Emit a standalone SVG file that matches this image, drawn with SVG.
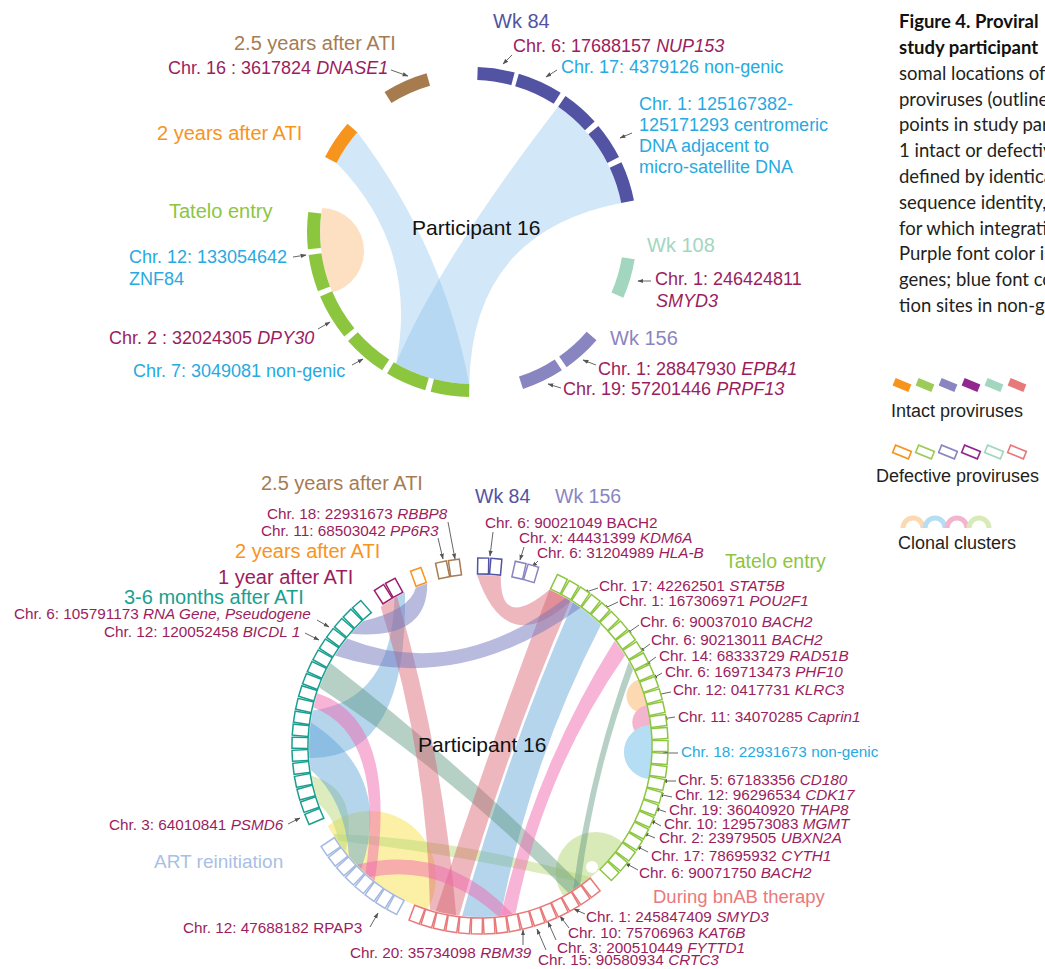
<svg xmlns="http://www.w3.org/2000/svg" width="1045" height="969" viewBox="0 0 1045 969">
<defs>
<style>
text{font-family:"Liberation Sans",Arial,sans-serif}
.cap text{font-family:Lato,"Open Sans",sans-serif;font-size:18.5px;fill:#231f20}
.m{fill:#9b1d5e}
.bl{fill:#27aae1}
.t18{font-size:18px}
.s{font-size:15.3px}
.h{font-size:20px}
.h2{font-size:19.5px}
.i{font-style:italic}
.seg{fill:none;stroke-width:13}
.ar{stroke:#555;stroke-width:0.9;fill:none;marker-end:url(#ah)}
.rr{fill:#d8606c;fill-opacity:.45}
.rb{fill:#5aa2d8;fill-opacity:.45}
.rp{fill:#f06ab0;fill-opacity:.5}
.rg{fill:#5f9680;fill-opacity:.45}
.rl{fill:#7377bd;fill-opacity:.5}
.ry{fill:#b9d97a;fill-opacity:.5}
.rt{fill:#8fc4ea;fill-opacity:.4}
</style>
<marker id="ah" viewBox="0 0 10 10" refX="9" refY="5" markerWidth="6" markerHeight="6" markerUnits="userSpaceOnUse" orient="auto"><path d="M0,1.5L10,5L0,8.5z" fill="#555"/></marker>
<clipPath id="cT"><circle cx="472" cy="232" r="152"/></clipPath>
<clipPath id="cB"><circle cx="480" cy="746" r="172"/></clipPath>
<rect id="bx" x="652" y="740.5" width="16" height="11"/>
</defs>
<rect width="1045" height="969" fill="#fff"/>

<!-- ===== TOP CIRCLE ===== -->
<g id="top-clusters">
<circle cx="321" cy="251" r="43" fill="#fde0c2" clip-path="url(#cT)"/>
</g>
<g id="top-connectors">
<path class="rt" d="M469.3,384.0 A152,152 0 0 1 396.0,363.6 Q419.15,247.65 336.6,163.0 A152,152 0 0 1 357.3,132.3 Q442.65,245.1 469.3,384.0 Z"/>
<path class="rt" d="M469.3,384.0 A152,152 0 0 1 396.0,363.6 Q440.35,258.85 558.1,106.7 A152,152 0 0 1 621.2,203.0 Q472,232 469.3,384.0 Z"/>
<path class="ar" d="M391,70 L408,76"/>
<path class="ar" d="M512,55 L503,64"/>
<path class="ar" d="M557,70 L546,77"/>
<path class="ar" d="M632,133 L620,138"/>
<path class="ar" d="M293,257 L306,255"/>
<path class="ar" d="M318,329 L330,322"/>
<path class="ar" d="M352,365 L363,359"/>
<path class="ar" d="M651,281 L638,281"/>
<path class="ar" d="M596,365 L583,360"/>
<path class="ar" d="M561,388 L548,384"/>
</g>
<text x="412" y="235" font-size="21" fill="#111">Participant 16</text>

<g id="top-tatelo">
<g class="seg" stroke="#8cc63f">
<path d="M314.4,248.6 A158.5,158.5 0 0 1 314.7,212.7"/>
<path d="M324.0,288.8 A158.5,158.5 0 0 1 315.0,254.1"/>
<path d="M349.3,332.3 A158.5,158.5 0 0 1 326.1,293.9"/>
<path d="M385.7,364.9 A158.5,158.5 0 0 1 352.9,336.6"/>
<path d="M427.0,384.0 A158.5,158.5 0 0 1 390.4,367.9"/>
<path d="M469.2,390.5 A158.5,158.5 0 0 1 432.3,385.4"/>
</g>
<text x="169" y="218" class="h" fill="#8cc63f">Tatelo entry</text>
<text x="129" y="263" class="bl t18">Chr. 12: 133054642</text>
<text x="129" y="285" class="bl t18">ZNF84</text>
<text x="109" y="344" class="m t18">Chr. 2 : 32024305 <tspan class="i">DPY30</tspan></text>
<text x="133" y="377" class="bl t18">Chr. 7: 3049081 non-genic</text>
</g>
<g id="top-wk84">
<g class="seg" stroke="#5254a3">
<path d="M477.5,73.6 A158.5,158.5 0 0 1 513.0,78.9"/>
<path d="M517.0,80.0 A158.5,158.5 0 0 1 557.2,98.3"/>
<path d="M561.8,101.4 A158.5,158.5 0 0 1 589.8,125.9"/>
<path d="M593.4,130.1 A158.5,158.5 0 0 1 613.2,160.0"/>
<path d="M615.6,165.0 A158.5,158.5 0 0 1 627.6,201.8"/>
</g>
<text x="493" y="28" class="h" fill="#5254a3">Wk 84</text>
<text x="513" y="52" class="m t18">Chr. 6: 17688157 <tspan class="i">NUP153</tspan></text>
<text x="561" y="73" class="bl t18">Chr. 17: 4379126 non-genic</text>
<text class="bl t18"><tspan x="639" y="110">Chr. 1: 125167382-</tspan><tspan x="639" y="131">125171293 centromeric</tspan><tspan x="639" y="152">DNA adjacent to</tspan><tspan x="639" y="173">micro-satellite DNA</tspan></text>
</g>
<g id="top-25y">
<path class="seg" stroke="#a67c4e" d="M388.0,97.6 A158.5,158.5 0 0 1 428.3,79.6"/>
<text x="234" y="50" class="h" fill="#a67c52">2.5 years after ATI</text>
<text x="168" y="74" class="m t18">Chr. 16 : 3617824 <tspan class="i">DNASE1</tspan></text>
</g>
<g id="top-2y">
<path class="seg" stroke="#f7941d" d="M330.8,160.0 A158.5,158.5 0 0 1 352.4,128.0"/>
<text x="157" y="140" class="h" fill="#f7941d">2 years after ATI</text>
</g>
<g id="top-wk108">
<path class="seg" stroke="#a3d6be" d="M628.3,258.2 A158.5,158.5 0 0 1 617.4,295.2"/>
<text x="647" y="252" class="h" fill="#a3d6be">Wk 108</text>
<text x="655" y="285" class="m t18">Chr. 1: 246424811</text>
<text x="656" y="307" class="m t18 i">SMYD3</text>
</g>
<g id="top-wk156">
<g class="seg" stroke="#8985c0">
<path d="M591.6,336.0 A158.5,158.5 0 0 1 562.9,361.8"/>
<path d="M558.3,364.9 A158.5,158.5 0 0 1 521.0,382.8"/>
</g>
<text x="610" y="345" class="h" fill="#8985c0">Wk 156</text>
<text x="598" y="375" class="m t18">Chr. 1: 28847930 <tspan class="i">EPB41</tspan></text>
<text x="563" y="395" class="m t18">Chr. 19: 57201446 <tspan class="i">PRPF13</tspan></text>
</g>

<!-- ===== BOTTOM CIRCLE ===== -->
<g id="bottom-clusters" clip-path="url(#cB)">
<circle cx="370" cy="877" r="66" fill="#fcf0a6"/>
<circle cx="595.5" cy="872" r="40" fill="#d9eab9"/>
<circle cx="592" cy="867" r="6" fill="#fff"/>
<circle cx="643.5" cy="696" r="17" fill="#fcd9b0"/>
<circle cx="649.3" cy="722.2" r="17" fill="#f3b5cd"/>
<circle cx="650.9" cy="752" r="27" fill="#b5def4"/>
</g>
<g id="bottom-connectors">
<path class="ry" d="M345.3,851.3 A171,171 0 0 1 338.2,841.6 Q335,818 319.3,804.5 A171,171 0 0 1 311.6,775.7 Q360,790 345.3,851.3 Z"/>
<path class="ry" d="M589.9,877.0 A171,171 0 0 1 582.9,882.6 Q460,854.5 337.4,840.4 A171,171 0 0 1 333.4,834.1 Q458.4,838.5 589.9,877.0 Z"/>
<path class="rb" d="M309.4,757.9 A171,171 0 0 1 312.7,710.4 Q392,700 394.5,597.9 A171,171 0 0 1 405.0,592.3 Q408,760 309.4,757.9 Z"/>
<path class="rb" d="M361.2,869.0 A171,171 0 0 1 349.0,855.9 Q345,800 310.7,769.8 A171,171 0 0 1 310.7,722.2 Q393.6,775.8 361.2,869.0 Z"/>
<path class="rb" d="M500.8,915.7 A171,171 0 0 1 462.1,916.1 Q506.3,755.3 573.1,602.6 A171,171 0 0 1 600.9,625.1 Q529.6,763.1 500.8,915.7 Z"/>
<path class="rg" d="M580.5,884.3 A171,171 0 0 1 568.1,892.6 Q454.6,776.8 319.3,687.5 A171,171 0 0 1 330.4,663.1 Q462.8,765.4 580.5,884.3 Z"/>
<path class="rg" d="M580.5,884.3 A171,171 0 0 1 573.1,889.4 Q588.9,772.6 628.8,661.8 A171,171 0 0 1 633.0,669.7 Q594.1,773.9 580.5,884.3 Z"/>
<path class="rr" d="M456.2,915.3 A171,171 0 0 1 430.0,909.5 Q427.7,754.5 380.7,606.8 A171,171 0 0 1 397.1,596.4 Q442.7,752.9 456.2,915.3 Z"/>
<path class="rr" d="M459.2,915.7 A171,171 0 0 1 435.7,911.2 Q488.8,749.2 549.5,589.8 A171,171 0 0 1 570.6,601.0 Q504.4,754.6 459.2,915.7 Z"/>
<path class="rr" d="M477.0,575.0 A171,171 0 0 1 500.8,576.3 Q500,631 549.5,589.8 A171,171 0 0 1 570.6,601.0 Q506,660 477.0,575.0 Z"/>
<path class="rp" d="M515.6,913.3 A171,171 0 0 1 500.8,915.7 Q534.4,768.5 614.7,640.7 A171,171 0 0 1 625.0,655.4 Q543.2,772.9 515.6,913.3 Z"/>
<path class="rp" d="M374.7,880.7 A171,171 0 0 1 365.6,873.1 Q385,735 313.4,707.5 A171,171 0 0 1 317.4,693.2 Q400,720 374.7,880.7 Z"/>
<path class="rp" d="M512.6,913.9 A171,171 0 0 1 497.9,916.1 Q440,863.5 370.1,877.0 A171,171 0 0 1 357.0,864.8 Q445.2,842.7 512.6,913.9 Z"/>
<path class="rl" d="M350.9,633.8 A171,171 0 0 1 363.4,620.9 Q410,610 415.9,587.4 A171,171 0 0 1 427.2,583.4 Q428,640 350.9,633.8 Z"/>
<path class="rl" d="M335.0,655.4 A171,171 0 0 1 347.1,638.4 Q456,682 565.5,597.9 A171,171 0 0 1 580.5,607.7 Q458,696 335.0,655.4 Z"/>
<path class="ar" d="M448,522 L455,559"/>
<path class="ar" d="M438,538 L443,559"/>
<path class="ar" d="M493,532 L490,556"/>
<path class="ar" d="M524,547 L520,560"/>
<path class="ar" d="M538,561 L532,567"/>
<path class="ar" d="M317,620 L329,627"/>
<path class="ar" d="M305,633 L319,640"/>
<path class="ar" d="M288,824 L300,818"/>
<path class="ar" d="M370,927 L378,913"/>
<path class="ar" d="M523,945 L523,930"/>
<path class="ar" d="M546,950 L537,929"/>
<path class="ar" d="M556,940 L548,922"/>
<path class="ar" d="M569,928 L560,916"/>
<path class="ar" d="M585,914 L574,909"/>
<path class="ar" d="M598,588 L583,593"/>
<path class="ar" d="M618,602 L603,609"/>
<path class="ar" d="M639,625 L626,634"/>
<path class="ar" d="M650,644 L639,652"/>
<path class="ar" d="M656,657 L645,665"/>
<path class="ar" d="M662,673 L652,679"/>
<path class="ar" d="M671,692 L656,695"/>
<path class="ar" d="M675,717 L662,719"/>
<path class="ar" d="M678,753 L663,753"/>
<path class="ar" d="M676,781 L662,781"/>
<path class="ar" d="M672,797 L658,794"/>
<path class="ar" d="M666,812 L654,808"/>
<path class="ar" d="M661,826 L650,820"/>
<path class="ar" d="M655,838 L643,833"/>
<path class="ar" d="M648,852 L636,846"/>
<path class="ar" d="M638,870 L625,863"/>
</g>
<text x="418" y="752" font-size="21" fill="#111">Participant 16</text>

<g id="bot-36m">
<g stroke="#1a9e8f" fill="#fff" stroke-width="1.5">
<use href="#bx" transform="rotate(157 480 746)"/><use href="#bx" transform="rotate(161 480 746)"/><use href="#bx" transform="rotate(165 480 746)"/><use href="#bx" transform="rotate(169 480 746)"/><use href="#bx" transform="rotate(173 480 746)"/><use href="#bx" transform="rotate(177 480 746)"/><use href="#bx" transform="rotate(181 480 746)"/><use href="#bx" transform="rotate(185 480 746)"/><use href="#bx" transform="rotate(189 480 746)"/><use href="#bx" transform="rotate(193 480 746)"/><use href="#bx" transform="rotate(197 480 746)"/><use href="#bx" transform="rotate(201 480 746)"/><use href="#bx" transform="rotate(205 480 746)"/><use href="#bx" transform="rotate(209 480 746)"/><use href="#bx" transform="rotate(213 480 746)"/><use href="#bx" transform="rotate(217 480 746)"/><use href="#bx" transform="rotate(221 480 746)"/><use href="#bx" transform="rotate(225 480 746)"/><use href="#bx" transform="rotate(229 480 746)"/>
</g>
<text x="124" y="604" class="h" fill="#1aa08f">3-6 months after ATI</text>
<text x="14" y="619" class="m s">Chr. 6: 105791173 <tspan class="i">RNA Gene, Pseudogene</tspan></text>
<text x="104" y="637" class="m s">Chr. 12: 120052458 <tspan class="i">BICDL 1</tspan></text>
<text x="109" y="830" class="m s">Chr. 3: 64010841 <tspan class="i">PSMD6</tspan></text>
</g>
<g id="bot-1y">
<g stroke="#9b1f6e" fill="#fff" stroke-width="1.5">
<use href="#bx" transform="rotate(237.5 480 746)"/><use href="#bx" transform="rotate(241.5 480 746)"/>
</g>
<text x="218" y="584" class="h" fill="#9b1d5e">1 year after ATI</text>
</g>
<g id="bot-2y">
<g stroke="#f7941d" fill="#fff" stroke-width="1.5"><use href="#bx" transform="rotate(250 480 746)"/></g>
<text x="235" y="558" class="h" fill="#f7941d">2 years after ATI</text>
</g>
<g id="bot-25y">
<g stroke="#a67c52" fill="#fff" stroke-width="1.5">
<use href="#bx" transform="rotate(258 480 746)"/><use href="#bx" transform="rotate(262 480 746)"/>
</g>
<text x="261" y="490" class="h" fill="#a67c52">2.5 years after ATI</text>
<text x="267" y="519" class="m s">Chr. 18: 22931673 <tspan class="i">RBBP8</tspan></text>
<text x="261" y="536" class="m s">Chr. 11: 68503042 <tspan class="i">PP6R3</tspan></text>
</g>
<g id="bot-wk84">
<g stroke="#5254a3" fill="#fff" stroke-width="1.5">
<use href="#bx" transform="rotate(271 480 746)"/><use href="#bx" transform="rotate(275 480 746)"/>
</g>
<text x="475" y="503" class="h2" fill="#5254a3">Wk 84</text>
<text x="485" y="528" class="m s">Chr. 6: 90021049 BACH2</text>
</g>
<g id="bot-wk156">
<g stroke="#8a85c2" fill="#fff" stroke-width="1.5">
<use href="#bx" transform="rotate(282.5 480 746)"/><use href="#bx" transform="rotate(286.5 480 746)"/>
</g>
<text x="555" y="503" class="h2" fill="#8a85c2">Wk 156</text>
<text x="519" y="543" class="m s">Chr. x: 44431399 <tspan class="i">KDM6A</tspan></text>
<text x="537" y="558" class="m s">Chr. 6: 31204989 <tspan class="i">HLA-B</tspan></text>
</g>
<g id="bot-tatelo">
<g stroke="#8cc63f" fill="#fff" stroke-width="1.5">
<use href="#bx" transform="rotate(296 480 746)"/><use href="#bx" transform="rotate(300 480 746)"/><use href="#bx" transform="rotate(304 480 746)"/><use href="#bx" transform="rotate(308 480 746)"/><use href="#bx" transform="rotate(312 480 746)"/><use href="#bx" transform="rotate(316 480 746)"/><use href="#bx" transform="rotate(320 480 746)"/><use href="#bx" transform="rotate(324 480 746)"/><use href="#bx" transform="rotate(328 480 746)"/><use href="#bx" transform="rotate(332 480 746)"/><use href="#bx" transform="rotate(336 480 746)"/><use href="#bx" transform="rotate(340 480 746)"/><use href="#bx" transform="rotate(344 480 746)"/><use href="#bx" transform="rotate(348 480 746)"/><use href="#bx" transform="rotate(352 480 746)"/><use href="#bx" transform="rotate(356 480 746)"/><use href="#bx" transform="rotate(0 480 746)"/><use href="#bx" transform="rotate(4 480 746)"/><use href="#bx" transform="rotate(8 480 746)"/><use href="#bx" transform="rotate(12 480 746)"/><use href="#bx" transform="rotate(16 480 746)"/><use href="#bx" transform="rotate(20 480 746)"/><use href="#bx" transform="rotate(24 480 746)"/><use href="#bx" transform="rotate(28 480 746)"/><use href="#bx" transform="rotate(32 480 746)"/><use href="#bx" transform="rotate(36 480 746)"/><use href="#bx" transform="rotate(40 480 746)"/><use href="#bx" transform="rotate(44 480 746)"/>
</g>
<text x="725" y="568" class="h2" fill="#8cc63f">Tatelo entry</text>
<g class="m s">
<text x="599" y="591">Chr. 17: 42262501 <tspan class="i">STAT5B</tspan></text>
<text x="619" y="606">Chr. 1: 167306971 <tspan class="i">POU2F1</tspan></text>
<text x="640" y="627">Chr. 6: 90037010 <tspan class="i">BACH2</tspan></text>
<text x="651" y="645">Chr. 6: 90213011 <tspan class="i">BACH2</tspan></text>
<text x="659" y="661">Chr. 14: 68333729 <tspan class="i">RAD51B</tspan></text>
<text x="665" y="677">Chr. 6: 169713473 <tspan class="i">PHF10</tspan></text>
<text x="673" y="695">Chr. 12: 0417731 <tspan class="i">KLRC3</tspan></text>
<text x="678" y="722">Chr. 11: 34070285 <tspan class="i">Caprin1</tspan></text>
<text x="681" y="757" class="bl">Chr. 18: 22931673 non-genic</text>
<text x="678" y="785">Chr. 5: 67183356 <tspan class="i">CD180</tspan></text>
<text x="675" y="800">Chr. 12: 96296534 <tspan class="i">CDK17</tspan></text>
<text x="669" y="815">Chr. 19: 36040920 <tspan class="i">THAP8</tspan></text>
<text x="664" y="829">Chr. 10: 129573083 <tspan class="i">MGMT</tspan></text>
<text x="659" y="843">Chr. 2: 23979505 <tspan class="i">UBXN2A</tspan></text>
<text x="651" y="861">Chr. 17: 78695932 <tspan class="i">CYTH1</tspan></text>
<text x="639" y="878">Chr. 6: 90071750 <tspan class="i">BACH2</tspan></text>
</g>
</g>
<g id="bot-bnab">
<g stroke="#e8797a" fill="#fff" stroke-width="1.5">
<use href="#bx" transform="rotate(52 480 746)"/><use href="#bx" transform="rotate(55.9 480 746)"/><use href="#bx" transform="rotate(59.8 480 746)"/><use href="#bx" transform="rotate(63.7 480 746)"/><use href="#bx" transform="rotate(67.6 480 746)"/><use href="#bx" transform="rotate(71.5 480 746)"/><use href="#bx" transform="rotate(75.4 480 746)"/><use href="#bx" transform="rotate(79.3 480 746)"/><use href="#bx" transform="rotate(83.2 480 746)"/><use href="#bx" transform="rotate(87.1 480 746)"/><use href="#bx" transform="rotate(91 480 746)"/><use href="#bx" transform="rotate(94.9 480 746)"/><use href="#bx" transform="rotate(98.8 480 746)"/><use href="#bx" transform="rotate(102.7 480 746)"/><use href="#bx" transform="rotate(106.6 480 746)"/><use href="#bx" transform="rotate(110.5 480 746)"/>
</g>
<text x="653" y="903" font-size="18.5" fill="#e9797b">During bnAB therapy</text>
<g class="m s">
<text x="586" y="922">Chr. 1: 245847409 <tspan class="i">SMYD3</tspan></text>
<text x="568" y="938">Chr. 10: 75706963 <tspan class="i">KAT6B</tspan></text>
<text x="557" y="953">Chr. 3: 200510449 <tspan class="i">FYTTD1</tspan></text>
<text x="538" y="965">Chr. 15: 90580934 <tspan class="i">CRTC3</tspan></text>
<text x="350" y="958">Chr. 20: 35734098 <tspan class="i">RBM39</tspan></text>
</g>
</g>
<g id="bot-art">
<g stroke="#a5b9e2" fill="#fff" stroke-width="1.5">
<use href="#bx" transform="rotate(118 480 746)"/><use href="#bx" transform="rotate(122 480 746)"/><use href="#bx" transform="rotate(126 480 746)"/><use href="#bx" transform="rotate(130 480 746)"/><use href="#bx" transform="rotate(134 480 746)"/><use href="#bx" transform="rotate(138 480 746)"/><use href="#bx" transform="rotate(142 480 746)"/><use href="#bx" transform="rotate(146 480 746)"/>
</g>
<text x="154" y="868" font-size="19" fill="#a9bfe6">ART reinitiation</text>
<text x="183" y="933" class="m s">Chr. 12: 47688182  RPAP3</text>
</g>

<!-- ===== CAPTION & LEGEND ===== -->
<g id="caption" class="cap">
<text x="899" y="28" font-weight="bold" style="fill:#111">Figure 4. Proviral</text>
<text x="899" y="54" font-weight="bold" style="fill:#111">study participant</text>
<text x="899" y="80">somal locations of</text>
<text x="899" y="106">proviruses (outline</text>
<text x="899" y="131">points in study par</text>
<text x="899" y="157">1 intact or defectiv</text>
<text x="899" y="183">defined by identica</text>
<text x="899" y="209">sequence identity,</text>
<text x="899" y="235">for which integrati</text>
<text x="899" y="260">Purple font color in</text>
<text x="899" y="286">genes; blue font co</text>
<text x="899" y="312">tion sites in non-g</text>
</g>
<g id="legend-intact">
<rect x="-8.5" y="-4" width="17" height="8" fill="#f7941d" transform="translate(902 385) rotate(22)"/>
<rect x="-8.5" y="-4" width="17" height="8" fill="#9ccb5a" transform="translate(925 385) rotate(22)"/>
<rect x="-8.5" y="-4" width="17" height="8" fill="#8985c0" transform="translate(948 385) rotate(22)"/>
<rect x="-8.5" y="-4" width="17" height="8" fill="#92278f" transform="translate(971 385) rotate(22)"/>
<rect x="-8.5" y="-4" width="17" height="8" fill="#a3d6be" transform="translate(994 385) rotate(22)"/>
<rect x="-8.5" y="-4" width="17" height="8" fill="#e8797a" transform="translate(1017 385) rotate(22)"/>
<text x="891" y="417" font-size="18" fill="#231f20">Intact proviruses</text>
</g>
<g id="legend-defective" fill="#fff" stroke-width="1.6">
<rect x="-8.5" y="-4" width="17" height="8" stroke="#f7941d" transform="translate(902 452) rotate(22)"/>
<rect x="-8.5" y="-4" width="17" height="8" stroke="#9ccb5a" transform="translate(925 452) rotate(22)"/>
<rect x="-8.5" y="-4" width="17" height="8" stroke="#8985c0" transform="translate(948 452) rotate(22)"/>
<rect x="-8.5" y="-4" width="17" height="8" stroke="#92278f" transform="translate(971 452) rotate(22)"/>
<rect x="-8.5" y="-4" width="17" height="8" stroke="#a3d6be" transform="translate(994 452) rotate(22)"/>
<rect x="-8.5" y="-4" width="17" height="8" stroke="#e8797a" transform="translate(1017 452) rotate(22)"/>
<text x="876" y="482" font-size="18" fill="#231f20" stroke="none">Defective proviruses</text>
</g>
<g id="legend-clonal" fill="none" stroke-width="5">
<path d="M903,528 A10,10 0 0 1 923,528" stroke="#fcd9b0"/>
<path d="M925,528 A10,10 0 0 1 945,528" stroke="#b5def4"/>
<path d="M947,528 A10,10 0 0 1 967,528" stroke="#f3b5cd"/>
<path d="M969,528 A10,10 0 0 1 989,528" stroke="#d9eab9"/>
<text x="898" y="549" font-size="18" fill="#231f20" stroke="none">Clonal clusters</text>
</g>
</svg>
